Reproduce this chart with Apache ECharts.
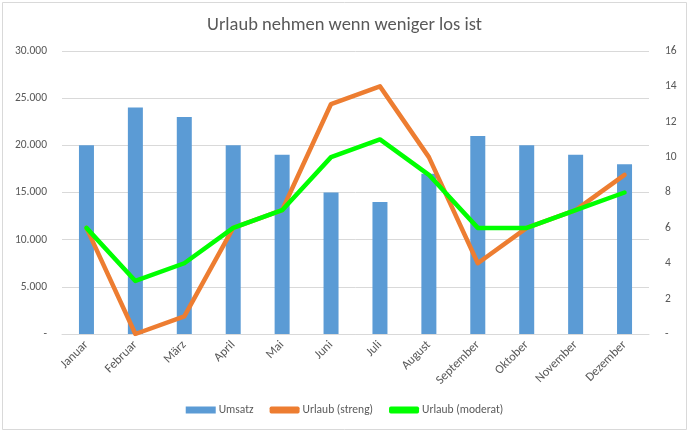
<!DOCTYPE html>
<html><head><meta charset="utf-8">
<script src="https://cdn.jsdelivr.net/npm/echarts@6/dist/echarts.min.js"></script>
<style>html,body{margin:0;padding:0;background:#fff}#c{width:689px;height:432px}</style>
</head><body><div id="c"></div>
<script>
const categories = ['Januar','Februar','März','April','Mai','Juni','Juli','August','September','Oktober','November','Dezember'];
const umsatz = [20000,24000,23000,20000,19000,15000,14000,17000,21000,20000,19000,18000];
const urlaubStreng = [6,0,1,6,7,13,14,10,4,6,7,9];
const urlaubModerat = [6,3,4,6,7,10,11,9,6,6,7,8];

const chart = echarts.init(document.getElementById('c'));
const font = 'Calibri, Carlito, "Liberation Sans", Arial, sans-serif';
chart.setOption({
  animation: false,
  backgroundColor: '#fff',
  textStyle: { fontFamily: font },
  graphic: [{ type: 'rect', shape: { x: 2.5, y: 2.5, width: 684, height: 427 }, style: { fill: 'none', stroke: '#d9d9d9', lineWidth: 1 }, silent: true }],
  title: { text: 'Urlaub nehmen wenn weniger los ist', left: 'center', top: 11, textStyle: { fontSize: 18.5, fontWeight: 'normal', color: '#595959', fontFamily: font } },
  legend: {
    bottom: 11, left: 'center', itemGap: 16, itemWidth: 30, itemHeight: 7,
    textStyle: { color: '#595959', fontSize: 11.5, fontFamily: font, padding: [0, 0, 0, -2] },
    data: [
      { name: 'Umsatz', icon: 'rect' },
      { name: 'Urlaub (streng)', icon: 'roundRect' },
      { name: 'Urlaub (moderat)', icon: 'roundRect' }
    ]
  },
  grid: { left: 62, right: 40, top: 51, bottom: 98 },
  xAxis: {
    type: 'category', data: categories,
    axisLine: { lineStyle: { color: '#d9d9d9' } },
    axisTick: { show: false },
    axisLabel: { rotate: 45, color: '#595959', fontSize: 12.5, interval: 0, margin: 9, fontFamily: font }
  },
  yAxis: [
    { type: 'value', min: 0, max: 30000, interval: 5000,
      axisLabel: { color: '#595959', fontSize: 11.5, margin: 15, fontFamily: font, formatter: v => v === 0 ? '-' : v.toLocaleString('de-DE') },
      splitLine: { lineStyle: { color: '#d9d9d9' } },
      axisLine: { show: false }, axisTick: { show: false } },
    { type: 'value', min: 0, max: 16, interval: 2, position: 'right',
      axisLabel: { color: '#595959', fontSize: 11.5, margin: 16, fontFamily: font, formatter: v => v === 0 ? '-' : String(v) },
      splitLine: { show: false }, axisLine: { show: false }, axisTick: { show: false } }
  ],
  series: [
    { name: 'Umsatz', type: 'bar', data: umsatz, barWidth: 15, itemStyle: { color: '#5b9bd5' }, yAxisIndex: 0 },
    { name: 'Urlaub (streng)', type: 'line', data: urlaubStreng, yAxisIndex: 1, symbol: 'none', lineStyle: { color: '#ed7d31', width: 4.5, cap: 'round', join: 'round' }, itemStyle: { color: '#ed7d31' } },
    { name: 'Urlaub (moderat)', type: 'line', data: urlaubModerat, yAxisIndex: 1, symbol: 'none', lineStyle: { color: '#00ff00', width: 4.5, cap: 'round', join: 'round' }, itemStyle: { color: '#00ff00' } }
  ]
});
</script></body></html>
